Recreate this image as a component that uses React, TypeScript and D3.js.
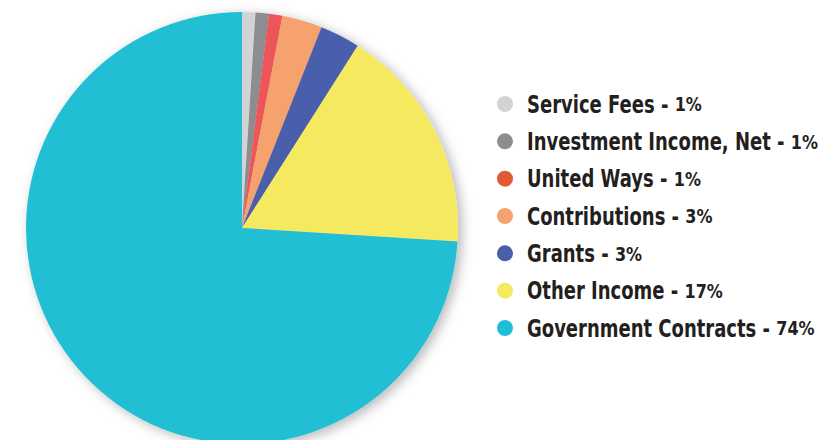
import React, { useEffect, useRef } from 'react';
import * as d3 from 'd3';

const categories = [
  'Service Fees',
  'Investment Income, Net',
  'United Ways',
  'Contributions',
  'Grants',
  'Other Income',
  'Government Contracts',
];
const percents = [1, 1, 1, 3, 3, 17, 74];
const sliceColors = ['#d1d3d4', '#8b8d90', '#ee5458', '#f6a26e', '#4a5fab', '#f5ea5f', '#24bfd4'];
const dotColors = ['#d1d3d4', '#8b8d90', '#e05a33', '#f6a26e', '#4a5fab', '#f5ea5f', '#1ebfd6'];

interface Slice {
  name: string;
  value: number;
}

const App: React.FC = () => {
  const chartRef = useRef<SVGSVGElement>(null);

  useEffect(() => {
    const width = 840;
    const height = 440;
    const cx = 242;
    const cy = 228;
    const radius = 216;
    const squeeze = 0.75; // condensed look for the labels
    const pctSqueeze = 0.8;

    const data: Slice[] = categories.map((name, i) => ({ name, value: percents[i] }));

    const svg = d3.select(chartRef.current);
    svg.selectAll('*').remove();
    svg.attr('width', width).attr('height', height);

    // soft shadow behind the pie
    const defs = svg.append('defs');
    defs
      .append('filter')
      .attr('id', 'pie-shadow')
      .attr('x', '-20%')
      .attr('y', '-20%')
      .attr('width', '140%')
      .attr('height', '140%')
      .append('feDropShadow')
      .attr('dx', 4)
      .attr('dy', 3)
      .attr('stdDeviation', 6)
      .attr('flood-color', '#000')
      .attr('flood-opacity', 0.28);

    const pie = d3
      .pie<Slice>()
      .value((d) => d.value)
      .sort(null);

    const arc = d3.arc<d3.PieArcDatum<Slice>>().innerRadius(0).outerRadius(radius);

    const g = svg
      .append('g')
      .attr('transform', `translate(${cx},${cy})`)
      .attr('filter', 'url(#pie-shadow)');

    g.selectAll('path')
      .data(pie(data))
      .join('path')
      .attr('d', arc)
      .attr('fill', (_d, i) => sliceColors[i]);

    // legend
    const y = d3
      .scalePoint<string>()
      .domain(categories)
      .range([104, 328]);

    const rows = svg
      .append('g')
      .selectAll('g')
      .data(data)
      .join('g')
      .attr('transform', (d) => `translate(505,${y(d.name)})`);

    rows
      .append('circle')
      .attr('r', 8)
      .attr('fill', (_d, i) => dotColors[i]);

    rows.each(function (d) {
      const row = d3.select(this);
      const label = row
        .append('text')
        .attr('transform', `translate(22,0) scale(${squeeze},1)`)
        .attr('dy', '0.36em')
        .attr('fill', '#231f20')
        .style('font-family', '"DejaVu Sans", sans-serif')
        .style('font-weight', 'bold')
        .style('font-size', '24px')
        .style('white-space', 'pre')
        .text(`${d.name} - `);

      const w = (label.node() as SVGTextElement).getComputedTextLength() * squeeze;

      row
        .append('text')
        .attr('transform', `translate(${22 + w},0) scale(${pctSqueeze},1)`)
        .attr('dy', '0.36em')
        .attr('fill', '#231f20')
        .style('font-family', '"DejaVu Sans", sans-serif')
        .style('font-weight', 'bold')
        .style('font-size', '20px')
        .text(`${d.value}%`);
    });
  }, []);

  return (
    <div style={{ position: 'absolute', left: 0, top: 0 }}>
      <svg ref={chartRef} style={{ display: 'block' }}></svg>
    </div>
  );
};

export default App;
